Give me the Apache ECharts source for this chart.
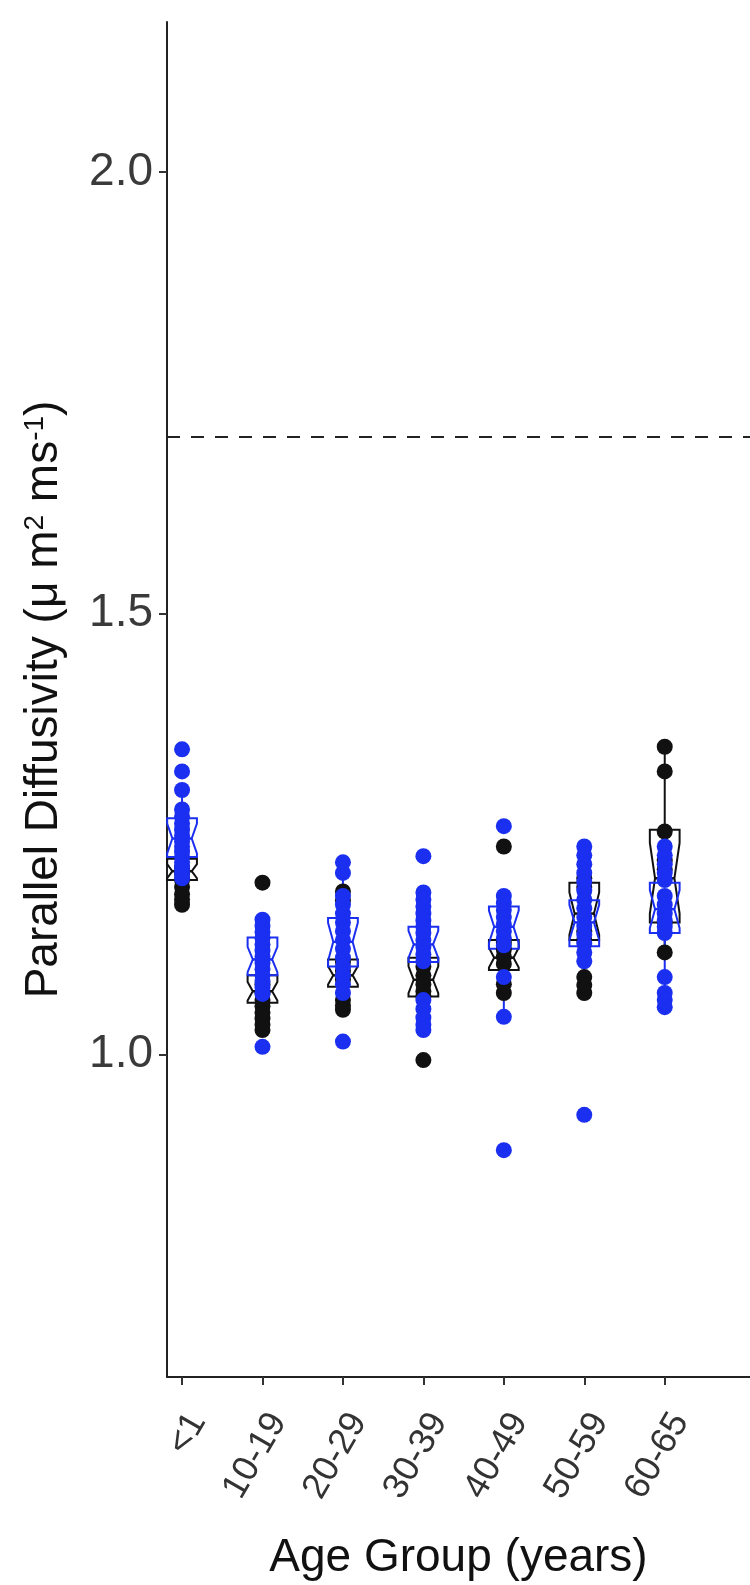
<!DOCTYPE html>
<html>
<head>
<meta charset="utf-8">
<script src="https://cdn.jsdelivr.net/npm/echarts@6/dist/echarts.min.js"></script>
<style>
html,body{margin:0;padding:0;background:#fff;}
#chart{width:750px;height:1585px;}
</style>
</head>
<body>
<div id="chart"></div>
<script>
// ---------- data ----------
const categories = ['<1', '10-19', '20-29', '30-39', '40-49', '50-59', '60-65'];
const yTickValues = [1.0, 1.5, 2.0];
const referenceLine = 1.70;

// individual points, blue group
const bluePoints = [
  [1.346, 1.321, 1.300, 1.278, 1.270, 1.262, 1.255, 1.248, 1.242, 1.236, 1.230, 1.224, 1.218, 1.212, 1.206, 1.200],
  [1.153, 1.146, 1.139, 1.132, 1.125, 1.118, 1.111, 1.104, 1.097, 1.090, 1.083, 1.076, 1.069, 1.009],
  [1.218, 1.206, 1.180, 1.170, 1.160, 1.150, 1.140, 1.130, 1.120, 1.110, 1.100, 1.090, 1.080, 1.070, 1.015],
  [1.225, 1.184, 1.176, 1.168, 1.160, 1.152, 1.145, 1.138, 1.130, 1.122, 1.114, 1.106, 1.062, 1.052, 1.042, 1.034, 1.028],
  [1.259, 1.180, 1.172, 1.164, 1.156, 1.148, 1.140, 1.132, 1.124, 1.088, 1.043, 0.892],
  [1.236, 1.226, 1.216, 1.206, 1.196, 1.186, 1.176, 1.166, 1.156, 1.146, 1.136, 1.126, 1.116, 1.106, 0.932],
  [1.236, 1.226, 1.216, 1.206, 1.198, 1.180, 1.170, 1.160, 1.152, 1.145, 1.138, 1.088, 1.070, 1.062, 1.054]
];
// individual points, black group
const blackPoints = [
  [1.190, 1.182, 1.176, 1.170, 1.198, 1.205, 1.212],
  [1.195, 1.062, 1.055, 1.048, 1.041, 1.034, 1.028, 1.070, 1.080],
  [1.185, 1.175, 1.062, 1.056, 1.051, 1.085, 1.095, 1.105],
  [0.994, 1.100, 1.090, 1.080, 1.072, 1.066],
  [1.236, 1.127, 1.119, 1.111, 1.103, 1.070, 1.080],
  [1.200, 1.190, 1.088, 1.079, 1.070, 1.130, 1.140],
  [1.349, 1.321, 1.253, 1.220, 1.210, 1.116, 1.150]
];
// box statistics [lower whisker, Q1, median, Q3, upper whisker]
const blueBoxes = [
  [1.200, 1.224, 1.245, 1.268, 1.300],
  [1.069, 1.090, 1.108, 1.133, 1.153],
  [1.070, 1.100, 1.128, 1.155, 1.206],
  [1.028, 1.105, 1.125, 1.145, 1.184],
  [1.043, 1.120, 1.145, 1.168, 1.180],
  [1.100, 1.123, 1.150, 1.175, 1.236],
  [1.054, 1.138, 1.165, 1.195, 1.236]
];
const blackBoxes = [
  [1.170, 1.198, 1.208, 1.222, 1.240],
  [1.028, 1.059, 1.072, 1.090, 1.120],
  [1.051, 1.077, 1.090, 1.108, 1.150],
  [1.040, 1.066, 1.085, 1.110, 1.140],
  [1.070, 1.096, 1.110, 1.130, 1.160],
  [1.070, 1.130, 1.160, 1.195, 1.220],
  [1.116, 1.150, 1.200, 1.255, 1.349]
];

// ---------- styles ----------
const BLUE = '#1a2ff0';
const BLACK = '#111111';
const BOX_W = 0.37;        // box width in category units
const FONT = 'Liberation Sans, Arial, Helvetica, sans-serif';

function pointData(groups) {
  const out = [];
  groups.forEach((vals, i) => vals.forEach(v => out.push([i + 1, v])));
  return out;
}
function boxData(boxes, points) {
  return boxes.map((b, i) => [i + 1, b[0], b[1], b[2], b[3], b[4], points[i].length]);
}

function renderBox(color) {
  return function (params, api) {
    const x = api.value(0);
    const low = api.value(1), q1 = api.value(2), med = api.value(3), q3 = api.value(4), high = api.value(5);
    const n = api.value(6);
    let half = 1.58 * (q3 - q1) / Math.sqrt(n);
    half = Math.min(half, 0.8 * (med - q1), 0.8 * (q3 - med));
    const nlo = med - half;
    const nhi = med + half;
    const c = api.coord([x, med]);
    const hw = api.size([BOX_W, 0])[0] / 2;
    const cx = c[0];
    const yL = api.coord([x, low])[1], yQ1 = api.coord([x, q1])[1], yM = c[1];
    const yQ3 = api.coord([x, q3])[1], yH = api.coord([x, high])[1];
    const yNlo = api.coord([x, nlo])[1], yNhi = api.coord([x, nhi])[1];
    const xl = cx - hw, xr = cx + hw, ind = hw * 0.35;
    const st = { stroke: color, lineWidth: 2, fill: null };
    return {
      type: 'group',
      children: [
        { type: 'line', shape: { x1: cx, y1: yQ3, x2: cx, y2: yH }, style: st },
        { type: 'line', shape: { x1: cx, y1: yQ1, x2: cx, y2: yL }, style: st },
        { type: 'polygon', shape: { points: [
            [xl, yQ1], [xl, yNlo], [xl + ind, yM], [xl, yNhi], [xl, yQ3],
            [xr, yQ3], [xr, yNhi], [xr - ind, yM], [xr, yNlo], [xr, yQ1]
          ] }, style: st },
        { type: 'line', shape: { x1: xl + ind, y1: yM, x2: xr - ind, y2: yM }, style: { stroke: color, lineWidth: 2.5 } }
      ]
    };
  };
}

const chart = echarts.init(document.getElementById('chart'), null, { renderer: 'canvas' });
chart.setOption({
  animation: false,
  backgroundColor: '#ffffff',
  textStyle: { fontFamily: FONT },
  grid: { left: 167, right: 0, top: 22, bottom: 208, containLabel: false, outerBoundsMode: 'none' },
  xAxis: {
    type: 'value',
    min: 0.813,
    max: 8.06,
    splitLine: { show: false },
    axisLine: { show: true, onZero: false, lineStyle: { color: '#222', width: 2 } },
    axisTick: { show: true, length: 8, lineStyle: { color: '#333', width: 2 }, customValues: [1, 2, 3, 4, 5, 6, 7] },
    axisLabel: {
      customValues: [1, 2, 3, 4, 5, 6, 7],
      formatter: v => categories[Math.round(v) - 1],
      rotate: 60,
      margin: 30,
      fontSize: 36,
      verticalAlign: 'top',
      color: '#333',
      fontFamily: FONT
    },
    name: 'Age Group (years)',
    nameLocation: 'middle',
    nameGap: 158,
    nameTextStyle: { fontSize: 46, color: '#111', fontFamily: FONT }
  },
  yAxis: {
    type: 'value',
    min: 0.635,
    max: 2.17,
    splitLine: { show: false },
    axisLine: { show: true, onZero: false, lineStyle: { color: '#222', width: 2 } },
    axisTick: { show: true, length: 8, lineStyle: { color: '#333', width: 2 }, customValues: yTickValues },
    axisLabel: {
      customValues: yTickValues,
      formatter: v => v.toFixed(1),
      margin: 14,
      fontSize: 46,
      color: '#3a3a3a',
      fontFamily: FONT
    },
    name: 'Parallel Diffusivity (\u03bc m{sup|2} ms{sup|-1})',
    nameLocation: 'middle',
    nameGap: 100,
    nameRotate: 90,
    nameTextStyle: {
      fontSize: 46, color: '#111', fontFamily: FONT,
      rich: { sup: { fontSize: 28, verticalAlign: 'top', color: '#111', fontFamily: FONT } }
    }
  },
  series: [
    {
      type: 'custom',
      name: 'black box',
      renderItem: renderBox(BLACK),
      data: boxData(blackBoxes, blackPoints),
      encode: { x: 0, y: [1, 2, 3, 4, 5] },
      z: 2
    },
    {
      type: 'custom',
      name: 'blue box',
      renderItem: renderBox(BLUE),
      data: boxData(blueBoxes, bluePoints),
      encode: { x: 0, y: [1, 2, 3, 4, 5] },
      z: 2
    },
    {
      type: 'scatter',
      name: 'black',
      data: pointData(blackPoints),
      symbolSize: 16,
      itemStyle: { color: BLACK, opacity: 1 },
      z: 3,
      markLine: {
        silent: true,
        symbol: ['none', 'none'],
        label: { show: false },
        lineStyle: { color: '#222', type: [13, 11], width: 2 },
        data: [{ yAxis: referenceLine }]
      }
    },
    {
      type: 'scatter',
      name: 'blue',
      data: pointData(bluePoints),
      symbolSize: 16,
      itemStyle: { color: BLUE, opacity: 1 },
      z: 4
    }
  ]
});
</script>
</body>
</html>
